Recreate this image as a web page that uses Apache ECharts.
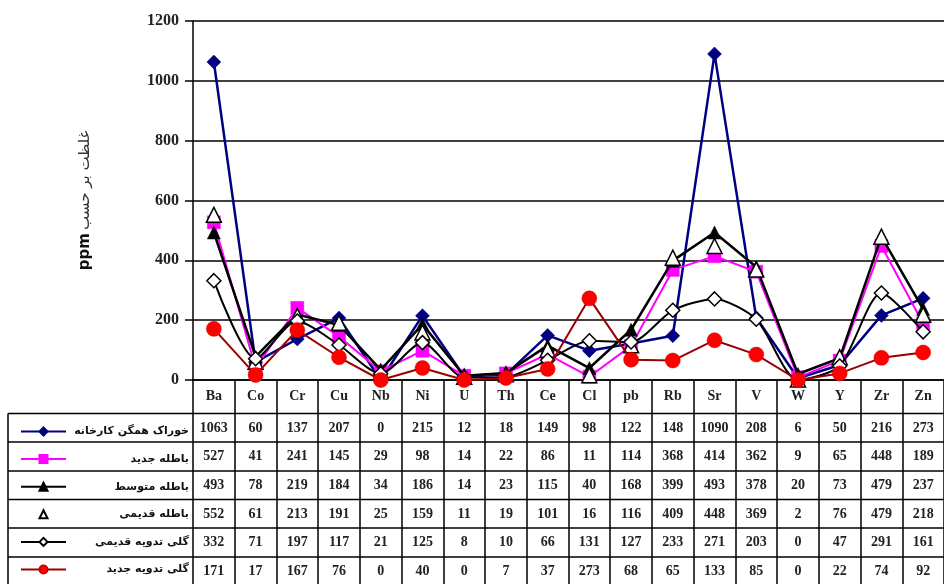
<!DOCTYPE html>
<html><head><meta charset="utf-8">
<script src="https://cdn.jsdelivr.net/npm/echarts@6/dist/echarts.min.js"></script>
<style>html,body{margin:0;padding:0;background:#fff;}#c{width:944px;height:584px;}</style>
</head><body><div id="c"></div>
<script>
const categories = ['Ba','Co','Cr','Cu','Nb','Ni','U','Th','Ce','Cl','pb','Rb','Sr','V','W','Y','Zr','Zn'];
const seriesNames = ['خوراک همگن کارخانه','باطله جدید','باطله متوسط','باطله قدیمی','گلی تدویه قدیمی','گلی تدویه جدید'];
const feedPlant = [1063,60,137,207,0,215,12,18,149,98,122,148,1090,208,6,50,216,273];
const tailNew   = [527,41,241,145,29,98,14,22,86,11,114,368,414,362,9,65,448,189];
const tailMid   = [493,78,219,184,34,186,14,23,115,40,168,399,493,378,20,73,479,237];
const tailOld   = [552,61,213,191,25,159,11,19,101,16,116,409,448,369,2,76,479,218];
const mudOld    = [332,71,197,117,21,125,8,10,66,131,127,233,271,203,0,47,291,161];
const mudNew    = [171,17,167,76,0,40,0,7,37,273,68,65,133,85,0,22,74,92];
const yTicks = {min:0, max:1200, interval:200};
const yName = 'غلظت بر حسب';

const allData = [feedPlant, tailNew, tailMid, tailOld, mudOld, mudNew];
const styles = [
  {color:'#000080', symbol:'diamond', size:14, lw:2.5, lc:'#000080', border:'#000080'},
  {color:'#ff00ff', symbol:'rect', size:13, lw:2, lc:'#ff00ff', border:'#ff00ff'},
  {color:'#000000', symbol:'triangle', size:13, lw:2.5, lc:'#000000', border:'#000000'},
  {color:'#ffffff', symbol:'triangle', size:15, lw:0, lc:'#000000', border:'#000000', noLine:true},
  {color:'#ffffff', symbol:'diamond', size:14, lw:2, lc:'#000000', border:'#000000', smooth:0.25},
  {color:'#ff0000', symbol:'circle', size:15, lw:2, lc:'#990000', border:'#cc0000'}
];

const serif = '"Liberation Serif","DejaVu Serif",serif';
const W = 944;
const gridLeft = 193, gridTop = 21, gridBottom = 204, gridRight = -10;
const axisY = 584 - gridBottom;
const rowLines = [413.5, 442, 471, 499.5, 528, 557];
const rowCenters = [428, 456.5, 485, 514, 542.5, 571];

const xAxes = [{
  type:'category', data:categories, gridIndex:0, boundaryGap:true,
  axisLine:{show:true, lineStyle:{color:'#000', width:1.5}},
  axisTick:{show:true, length:204, lineStyle:{color:'#000', width:1.5}, alignWithLabel:false},
  axisLabel:{margin:9, color:'#222', fontFamily:serif, fontWeight:'bold', fontSize:14, interval:0}
}];
allData.forEach((arr, i) => {
  xAxes.push({
    type:'category', data:arr.map(String), gridIndex:0, position:'bottom',
    offset: rowCenters[i] - 7 - axisY,
    axisLine:{show:false}, axisTick:{show:false}, splitLine:{show:false},
    axisLabel:{margin:0, color:'#222', fontFamily:serif, fontWeight:'bold', fontSize:14, interval:0, lineHeight:14}
  });
});

const series = allData.map((arr, i) => {
  const s = styles[i];
  return {
    name: seriesNames[i], type:'line', data: arr, xAxisIndex:0,
    symbol: s.symbol, symbolSize: s.size, smooth: s.smooth || false,
    showAllSymbol:true,
    lineStyle:{color:s.lc, width:s.lw, opacity: s.noLine ? 0 : 1},
    itemStyle:{color:s.color, borderColor:s.border, borderWidth: (s.color==='#ffffff') ? 1.5 : 0.5},
    emphasis:{disabled:true}, z: 2 + i
  };
});

const graphics = [];
rowLines.forEach(y => {
  graphics.push({type:'line', shape:{x1:8, y1:y, x2:W, y2:y}, style:{stroke:'#000', lineWidth:1.5}, silent:true});
});
graphics.push({type:'line', shape:{x1:8, y1:413.5, x2:8, y2:584}, style:{stroke:'#000', lineWidth:1.5}, silent:true});

const chart = echarts.init(document.getElementById('c'), null, {renderer:'canvas'});
chart.setOption({
  animation:false,
  backgroundColor:'#fff',
  grid:{left:gridLeft, top:gridTop, right:gridRight, bottom:gridBottom, containLabel:false},
  xAxis: xAxes,
  yAxis:{
    type:'value', min:yTicks.min, max:yTicks.max, interval:yTicks.interval,
    name:'{b|ppm} {r|' + yName + '}', nameLocation:'middle', nameRotate:90, nameGap:100,
    nameTextStyle:{rich:{
      b:{fontFamily:'"DejaVu Sans",sans-serif', fontWeight:'bold', fontSize:15, color:'#111'},
      r:{fontFamily:'"DejaVu Sans",sans-serif', fontSize:15, color:'#333'}
    }},
    axisLine:{show:true, lineStyle:{color:'#000', width:1.5}},
    axisTick:{show:true, length:8, lineStyle:{color:'#000', width:1.5}},
    axisLabel:{margin:14, color:'#222', fontFamily:serif, fontWeight:'bold', fontSize:16, formatter: v => String(v)},
    splitLine:{show:true, lineStyle:{color:'#000', width:1.5}}
  },
  legend:{
    orient:'vertical', left:15, top:421, itemWidth:45, itemHeight:10, itemGap:16.6,
    selectedMode:false,
    data: seriesNames,
    formatter: n => '{t|' + n + '}',
    textStyle:{rich:{t:{width:118, align:'right', fontFamily:'"DejaVu Sans",sans-serif', fontWeight:'bold', fontSize:11, color:'#111', lineHeight:12}}}
  },
  graphic: graphics,
  series: series
});
</script>
</body></html>
